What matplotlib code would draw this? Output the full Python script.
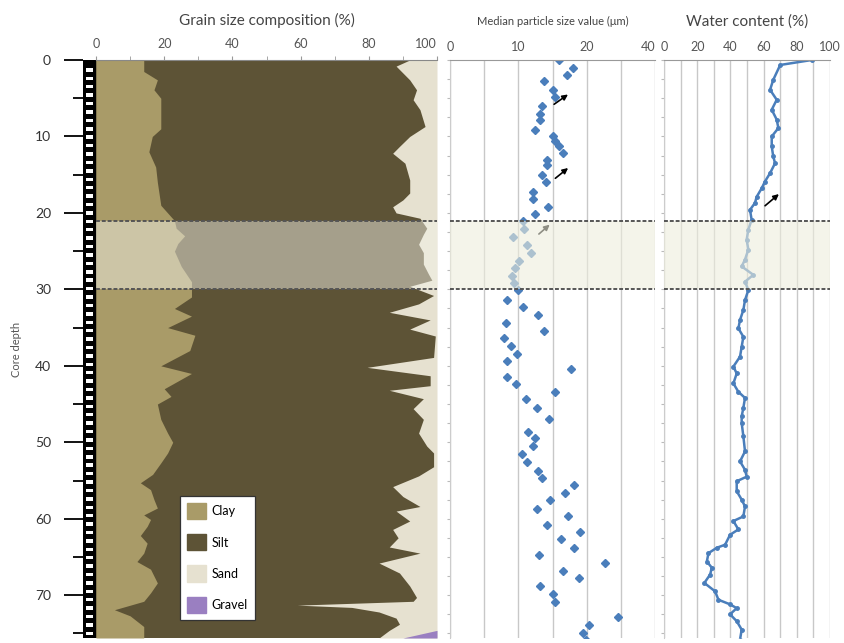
import numpy as np
import matplotlib
matplotlib.use("Agg")
import matplotlib.pyplot as plt
from matplotlib.patches import Patch

plt.rcParams['font.family'] = ['Lato', 'DejaVu Sans']

# grain size composition: clay boundary and clay+silt boundary (%), by depth
clay_depth = [0, 1.5, 2.6, 3.9, 5, 9, 10, 12, 14, 16, 19, 20, 21, 22, 23, 24, 25, 27, 29, 31,
              32.5, 33.5, 35, 36, 38, 40, 41, 43, 44, 45, 47, 48.8, 50, 51.4, 52.7, 54.2, 55.3,
              56.2, 57.5, 58.6, 59.5, 60.1, 61, 62.2, 63.2, 64.5, 65.6, 66.6, 68.4, 69.7, 70.8,
              71.9, 72.7, 74.1, 75.6]
clay_pct = [14, 14, 18, 17, 19, 19, 16.5, 15.5, 17.5, 18, 19, 21, 23, 23.5, 26, 24, 23, 25, 28, 28,
            23, 28, 21, 29, 27.5, 19, 28, 20, 22, 18, 19, 21, 22.5, 21, 19, 16.6, 13,
            16, 17, 18, 14, 16, 15, 13, 15, 14, 12, 16, 18, 16, 14,
            5.4, 10, 14, 14]

silt_depth = [0, 0.8, 2.6, 3.9, 5.2, 6.5, 8.7, 10, 11.3, 12.2, 13.5, 15.7, 17.4, 18.3, 19.2, 20,
              20.7, 22, 22.8, 24.1, 25.2, 26.7, 28, 28.8, 29.6, 30.8, 31.9, 33, 34, 35.2, 36.1,
              38.9, 40.2, 41.3, 42.6, 43.2, 44.3, 45.6, 47, 48.8, 50.5, 51.4, 53.2, 54.4, 55.8,
              57.1, 58.4, 59, 60.3, 61.4, 62.5, 63.7, 64.5, 65.8, 67.1, 68.8, 70.3, 70.8, 71.3,
              71.6, 72.2, 73.0, 73.8, 74.6, 75.6]
silt_top_pct = [92, 88, 92, 94, 93, 95, 96.5, 92, 89, 87, 90.6, 92, 92, 90, 87, 88,
                95, 97, 96, 94.6, 96, 96, 97.5, 98.5, 92, 99, 94.6, 86, 98, 92, 99.5,
                99, 79.5, 98, 98, 86, 96, 93, 96, 94.6, 97, 99, 99, 94.6, 87,
                90, 95, 88, 92, 87, 88.6, 86, 95, 83, 89, 92, 94, 93, 59,
                75, 83, 88, 89, 86, 83]

gravel_depth = [74.6, 75.6]
gravel_pct = [0, 10]

# median particle size (um)
med_depth = [0, 1.0, 2.0, 2.8, 3.9, 4.9, 6.0, 7.0, 7.8, 9.1, 10, 10.6, 11.3, 12.2, 13.1, 13.7,
             15, 16, 17.2, 18.2, 19.2, 20.1, 21.1, 22.1, 23.2, 24.2, 25.2, 26.3, 27.2, 28.3,
             29.2, 30.1, 31.4, 32.3, 33.4, 34.4, 35.4, 36.4, 37.4, 38.4, 39.4, 40.4, 41.4, 42.4,
             43.4, 44.4, 45.5, 47, 48.6, 49.5, 50.5, 51.5, 52.6, 53.7, 54.7, 55.6, 56.6, 57.6,
             58.7, 59.7, 60.8, 61.8, 62.7, 63.8, 64.8, 65.8, 66.9, 67.8, 68.8, 69.8, 70.9, 72.9,
             73.9, 74.9, 75.8]
med_size = [15.9, 18.0, 17.1, 13.8, 15.1, 15.3, 13.4, 13.2, 13.2, 12.4, 15.1, 15.3, 15.9, 16.5,
            14.2, 14.2, 13.4, 14.1, 12.2, 12.2, 14.4, 12.4, 10.7, 10.8, 9.2, 11.3, 11.8, 10.1,
            9.5, 9.0, 9.4, 10.0, 8.4, 10.7, 12.9, 8.2, 13.8, 7.9, 8.9, 9.8, 8.4, 17.7, 8.4, 9.7,
            15.4, 11.1, 12.7, 14.5, 11.4, 12.5, 12.1, 10.6, 11.2, 12.9, 13.4, 18.1, 16.8, 14.6,
            12.8, 17.2, 14.2, 19.0, 16.3, 18.1, 13.0, 22.7, 16.5, 18.9, 13.2, 15.1, 15.3, 24.6,
            20.4, 19.5, 19.9]

# water content (%)
wc_depth = [0, 0.65, 2.6, 3.9, 5.2, 6.5, 7.8, 8.9, 10, 11.3, 12.6, 13.5, 14.8, 15.9, 16.8, 17.9,
            18.7, 19.6, 20.9, 22.2, 23.5, 24.8, 26.1, 27, 28.1, 29, 30.1, 31.4, 32.7, 34, 35.1,
            36.2, 37.5, 38.8, 40.1, 41, 42.3, 43.4, 44.2, 45.5, 46.6, 47.5, 49.2, 51.2, 52.5,
            53.6, 54.5, 55.1, 56.4, 57.5, 58.4, 59.7, 60.3, 61.4, 62.1, 63.4, 63.8, 64.5, 65.6,
            66.4, 67.3, 68.4, 69.5, 70.6, 71.2, 71.7, 72.5, 73.4, 74.5, 75.8]
wc_pct = [89, 70, 65.8, 63.9, 67.9, 64.9, 67.9, 68.9, 64.9, 64.9, 65.8, 66.9, 63.9, 60.8, 58.8,
          55.8, 54.8, 51.8, 52.8, 50.8, 49.8, 50.8, 48.8, 46.8, 53.8, 48.8, 50.8, 48.8, 47.8,
          45.8, 44.8, 47.8, 46.8, 45.8, 41.8, 43.8, 41.8, 44.8, 48.8, 47.8, 46.8, 46.8, 47.8,
          48.8, 45.8, 48.8, 49.8, 43.8, 43.8, 46.8, 48.8, 47.8, 41.8, 44.8, 39.8, 36.8, 31.8,
          26.8, 25.8, 28.8, 27.8, 24.3, 30.8, 32.8, 39.8, 43.8, 39.8, 43.8, 46.8, 45.8]

med_ticks = [0, 10, 20, 30]
med_ticklabels = ['0', '10', '20', '40']
band = (21, 30)
ymax = 75.6

clay_c, silt_c, sand_c, gravel_c = '#a99b68', '#5d5336', '#e6e1d0', '#9a7fc1'
blue = '#4a7ebb'
txt = '#555555'

fig = plt.figure(figsize=(8.44, 6.43), dpi=100)
H = 643.0
W = 844.0
top = 1 - 60 / H
bot = 1 - 638 / H

axr = fig.add_axes([83 / W, bot, 13 / W, top - bot])
ax1 = fig.add_axes([96 / W, bot, 341 / W, top - bot])
ax2 = fig.add_axes([450 / W, bot, 205 / W, top - bot])
ax3 = fig.add_axes([664 / W, bot, 166 / W, top - bot])

# core ruler
axr.set_facecolor('black')
stripes = np.arange(1.3, ymax, 1.1)
axr.barh(stripes, 0.56, left=0.22, height=0.45, color='white', linewidth=0)
axr.set_xlim(0, 1)
axr.set_ylim(ymax, 0)
axr.set_xticks([])
axr.set_yticks(np.arange(0, 71, 10))
axr.set_yticks(np.arange(5, 76, 10), minor=True)
axr.tick_params(axis='y', which='major', length=14, width=1.3, labelsize=10, labelcolor='#333', pad=9)
axr.tick_params(axis='y', which='minor', length=7, width=1.3)
for s in axr.spines.values():
    s.set_visible(False)
axr.set_ylabel('Core depth', fontsize=8, color=txt, labelpad=9)

# grain size composition
ax1.set_facecolor(silt_c)
ax1.fill_betweenx(clay_depth, 0, clay_pct, color=clay_c, linewidth=0)
ax1.fill_betweenx(silt_depth, silt_top_pct, 100, color=sand_c, linewidth=0)
ax1.fill_betweenx(gravel_depth, 100 - np.array(gravel_pct), 100, color=gravel_c, linewidth=0)
ax1.axhspan(*band, color='#f4f4ea', alpha=0.48, linewidth=0, zorder=3)
ax1.set_xlim(0, 100)
ax1.set_ylim(ymax, 0)
ax1.xaxis.tick_top()
ax1.set_xticks(np.arange(0, 101, 20))
ax1.set_xticks(np.arange(10, 100, 20), minor=True)
ax1.tick_params(axis='x', which='both', length=3, color='#999', labelsize=9, labelcolor=txt, pad=4)
ax1.set_yticks([])
for s in ['left', 'right', 'bottom']:
    ax1.spines[s].set_visible(False)
ax1.spines['top'].set_color('#888')
ax1.set_title('Grain size composition (%)', fontsize=11, color='#444', pad=25)
handles = [Patch(color=clay_c, label='Clay'), Patch(color=silt_c, label='Silt'),
           Patch(color=sand_c, label='Sand'), Patch(color=gravel_c, label='Gravel')]
leg = ax1.legend(handles=handles, loc='lower left', bbox_to_anchor=(0.246, 0.031), fontsize=9,
                 handlelength=1.5, handleheight=1.6, labelspacing=1.2, handletextpad=0.4,
                 borderpad=0.6, borderaxespad=0, fancybox=False, framealpha=1, edgecolor='#333')
leg.get_frame().set_linewidth(0.9)
leg.set_zorder(10)

# median particle size
ax2.plot(med_size, med_depth, linestyle='none', marker='D', markersize=4.5, color=blue)
ax2.set_xlim(0, 30)
ax2.xaxis.tick_top()
ax2.set_xticks(np.arange(0, 31, 5), minor=True)
ax2.grid(True, which='both', axis='x', color='#c8c8c8', linewidth=1)
ax2.tick_params(axis='x', which='both', length=0, labelsize=9, labelcolor=txt, pad=5)
ax2.set_xticks(med_ticks)
ax2.set_xticklabels(med_ticklabels)
ax2.set_title('Median particle size value (μm)', fontsize=8, color='#444', pad=25)

ax2.annotate('', xy=(17.6, 4.3), xytext=(14.9, 6.0),
             arrowprops=dict(arrowstyle='-|>', color='black', lw=1.2, mutation_scale=8))
ax2.annotate('', xy=(17.6, 13.9), xytext=(15.1, 15.7),
             arrowprops=dict(arrowstyle='-|>', color='black', lw=1.2, mutation_scale=8))
ax2.annotate('', xy=(14.9, 21.3), xytext=(12.7, 23.0),
             arrowprops=dict(arrowstyle='-|>', color='black', lw=1.2, mutation_scale=8))

# water content
ax3.plot(wc_pct, wc_depth, color=blue, linewidth=1.8, marker='o', markersize=2.5)
ax3.set_xlim(0, 100)
ax3.set_xticks(np.arange(0, 101, 20))
ax3.set_xticks(np.arange(0, 101, 10), minor=True)
ax3.grid(True, which='both', axis='x', color='#c8c8c8', linewidth=1)
ax3.xaxis.tick_top()
ax3.tick_params(axis='x', which='both', length=0, labelsize=9, labelcolor=txt, pad=5)
ax3.set_title('Water content (%)', fontsize=11, color='#444', pad=25)
ax3.annotate('', xy=(70.5, 17.3), xytext=(59.6, 19.3),
             arrowprops=dict(arrowstyle='-|>', color='black', lw=1.2, mutation_scale=8))

for ax in (ax2, ax3):
    ax.set_ylim(ymax, 0)
    ax.set_axisbelow(True)
    ax.axhspan(*band, color='#eeeedd', alpha=0.6, linewidth=0, zorder=5)
    ax.set_yticks(np.arange(0, 76, 2.5))
    ax.tick_params(axis='y', which='both', labelleft=False, length=2, color='#bbb')
    for s in ['right', 'bottom']:
        ax.spines[s].set_visible(False)
    ax.spines['left'].set_color('#ccc')
    ax.spines['top'].set_color('#999')

for ax in (ax1, ax2, ax3):
    for d in band:
        ax.axhline(d, color='#555', linestyle=(0, (2, 1)), linewidth=1.4, zorder=6)

# keep the last top labels of the first two panels inside their own panel
fig.canvas.draw()
for ax in (ax1, ax2):
    ax.get_xticklabels()[-1].set_horizontalalignment('right')

fig.savefig('out.png', dpi=100)
